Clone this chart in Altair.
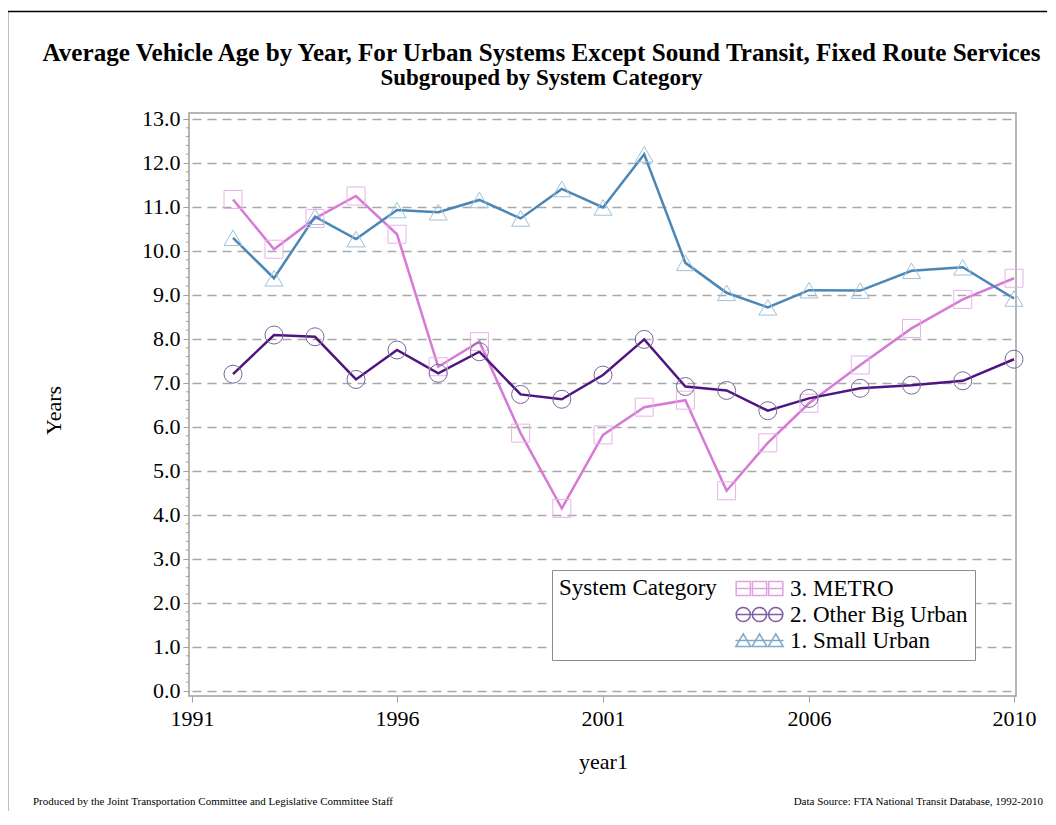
import altair as alt
import pandas as pd

# ---- data ----
years = list(range(1992, 2011))
categories = ["3. METRO", "2. Other Big Urban", "1. Small Urban"]
metro = [11.17, 10.04, 10.74, 11.25, 10.38, 7.37, 7.94, 5.86, 4.15, 5.82,
         6.45, 6.61, 4.55, 5.64, 6.54, 7.41, 8.24, 8.90, 9.38]
other_big = [7.20, 8.09, 8.05, 7.08, 7.75, 7.22, 7.71, 6.74, 6.63, 7.18,
             7.99, 6.92, 6.83, 6.37, 6.65, 6.88, 6.95, 7.05, 7.54]
small_urban = [10.30, 9.38, 10.78, 10.27, 10.93, 10.88, 11.16, 10.74, 11.41, 10.99,
               12.20, 9.73, 9.05, 8.72, 9.11, 9.10, 9.55, 9.63, 8.92]
x_ticks = [1991, 1996, 2001, 2006, 2010]
y_ticks = list(range(0, 14))
y_minor = [round(i * 0.2, 1) for i in range(0, 66) if i % 5 != 0]

line_colors = ["#d67ad6", "#4e1580", "#4a86b6"]
marker_colors = ["#e8b2e8", "#7a679c", "#9cc2dc"]

rows = []
for cat, vals in zip(categories, [metro, other_big, small_urban]):
    for yr, v in zip(years, vals):
        rows.append({"year1": yr, "value": v, "cat": cat})
df = pd.DataFrame(rows)

FONT = "Liberation Serif"
W, H = 827, 583

x_scale = alt.Scale(domain=x_ticks, range=[3, 208, 414, 620, 825], nice=False, zero=False)
y_scale = alt.Scale(domain=[-0.114, 13.136], nice=False, zero=False)

x_axis = alt.Axis(values=x_ticks, format="d", grid=False, domain=False, tickSize=6,
                  tickColor="#a0a0a0", labelPadding=6, labelFlush=False,
                  title="year1", titleY=72, titleBaseline="alphabetic",
                  titleFontSize=22, titleFontWeight="normal", titleFont=FONT)
y_axis = alt.Axis(values=y_ticks, format=".1f", grid=True, gridDash=[9, 6],
                  gridColor="#a8a8a8", gridWidth=1.3, domain=False, tickSize=6,
                  tickColor="#a0a0a0", labelPadding=3, title="Years",
                  titleX=-129, titleY=297, titleBaseline="alphabetic", titleAngle=270,
                  titleFontSize=22, titleFontWeight="normal", titleFont=FONT)


def X():
    return alt.X("year1:Q", scale=x_scale, axis=x_axis)


def Y():
    return alt.Y("value:Q", scale=y_scale, axis=y_axis)


lines = alt.Chart(df).mark_line(strokeWidth=2.5).encode(
    x=X(), y=Y(),
    stroke=alt.Stroke("cat:N", scale=alt.Scale(domain=categories, range=line_colors), legend=None),
)

markers = alt.Chart(df).mark_point(filled=False, strokeWidth=1, size=324, opacity=1).encode(
    x=X(), y=Y(),
    color=alt.Color("cat:N", scale=alt.Scale(domain=categories, range=marker_colors), legend=None),
    shape=alt.Shape("cat:N", scale=alt.Scale(domain=categories,
                                             range=["square", "circle", "triangle-up"]), legend=None),
)

sq = "M-3.3,-1H-1.3V1H-3.3Z M-1,-1H1V1H-1Z M1.3,-1H3.3V1H1.3Z M-3.4,0H3.4"
ci = ("M-1.3,0A1,1 0 1,0 -3.3,0A1,1 0 1,0 -1.3,0Z "
      "M1,0A1,1 0 1,0 -1,0A1,1 0 1,0 1,0Z "
      "M3.3,0A1,1 0 1,0 1.3,0A1,1 0 1,0 3.3,0Z M-3.4,0H3.4")
tr = ("M-2.3,-0.95L-3.35,0.85L-1.25,0.85Z M0,-0.95L-1.05,0.85L1.05,0.85Z "
      "M2.3,-0.95L1.25,0.85L3.35,0.85Z M-3.4,0H3.4")

legend = alt.Legend(
    title="System Category", orient="none", legendX=363, legendY=457,
    titleOrient="left", titleFont=FONT, titleFontSize=23, titleFontWeight="normal",
    titleColor="black", titleAnchor="start", titlePadding=31,
    labelFont=FONT, labelFontSize=23, labelColor="black", labelOffset=19, labelLimit=400,
    symbolSize=200, symbolStrokeWidth=1.5, symbolFillColor="transparent",
    strokeColor="#8c8c8c", fillColor="white", padding=7, rowPadding=2,
)

legend_layer = alt.Chart(df).transform_filter("false").mark_point(filled=False).encode(
    x=X(), y=Y(),
    color=alt.Color("cat:N", scale=alt.Scale(domain=categories, range=line_colors), legend=legend),
    shape=alt.Shape("cat:N", scale=alt.Scale(domain=categories, range=[sq, ci, tr]), legend=legend),
)

minor = alt.Chart(pd.DataFrame({"value": y_minor})).mark_rule(color="#a0a0a0").encode(
    y=Y(), x=alt.value(-3), x2=alt.value(0)
)

one = pd.DataFrame({"a": [0]})
foot_left = alt.Chart(pd.DataFrame({"t": ["Produced by the Joint Transportation Committee and Legislative Committee Staff"]})).mark_text(
    font=FONT, fontSize=11, align="left", baseline="alphabetic", color="black"
).encode(x=alt.value(-156), y=alt.value(692), text="t:N")
foot_right = alt.Chart(pd.DataFrame({"t": ["Data Source: FTA National Transit Database, 1992-2010"]})).mark_text(
    font=FONT, fontSize=11, align="right", baseline="alphabetic", color="black"
).encode(x=alt.value(854), y=alt.value(692), text="t:N")

border_top = alt.Chart(one).mark_rule(color="black", strokeWidth=1.5).encode(
    x=alt.value(-181.5), x2=alt.value(860), y=alt.value(-101.5))
border_left = alt.Chart(one).mark_rule(color="black", strokeWidth=1.5).encode(
    x=alt.value(-181.5), y=alt.value(-101.5), y2=alt.value(720))

chart = alt.layer(
    minor, lines, markers, legend_layer, foot_left, foot_right, border_top, border_left
).resolve_scale(
    color="independent", shape="independent"
).properties(
    width=W, height=H,
    padding={"left": 181, "top": 105, "right": 31, "bottom": 115},
    autosize=alt.AutoSizeParams(type="none"),
    title=alt.TitleParams(
        text="Average Vehicle Age by Year, For Urban Systems Except Sound Transit, Fixed Route Services",
        subtitle="Subgrouped by System Category",
        font=FONT, fontSize=25.1, fontWeight="bold", color="black",
        subtitleFont=FONT, subtitleFontSize=23, subtitleFontWeight="bold", subtitleColor="black",
        subtitlePadding=1, anchor="middle", dx=-61, dy=93, offset=14,
    ),
).configure_view(
    stroke="#a0a0a0", strokeWidth=1.5
).configure_axis(
    labelFont=FONT, labelFontSize=22, labelColor="black"
)

chart.save("out.html", embed_options={"renderer": "svg", "actions": False})
